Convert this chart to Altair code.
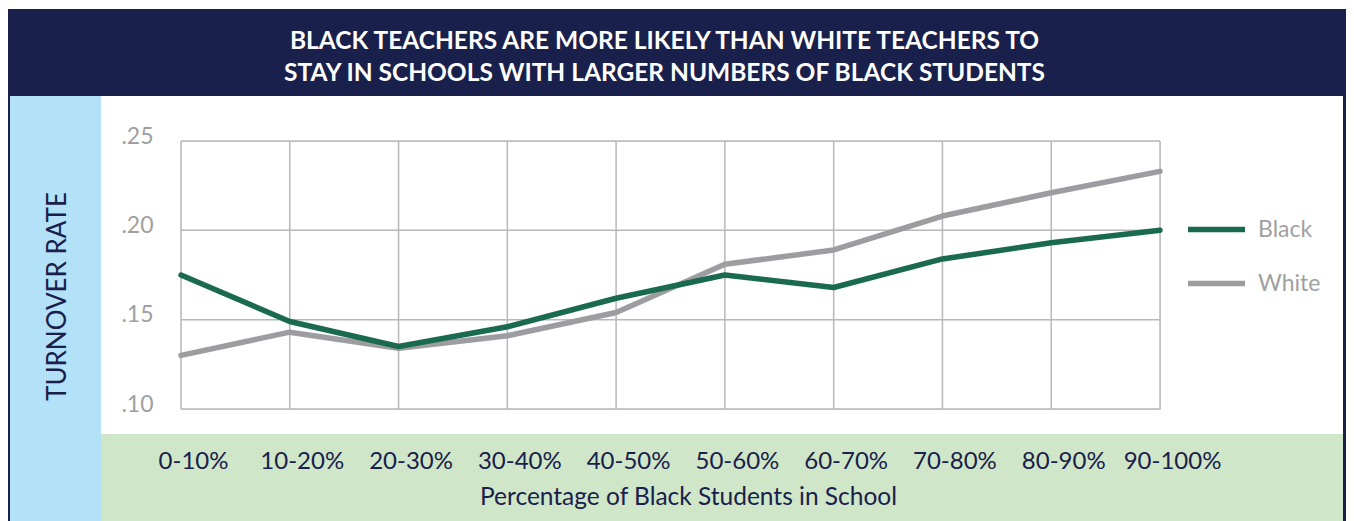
import altair as alt
import pandas as pd

categories = ["0-10%", "10-20%", "20-30%", "30-40%", "40-50%",
              "50-60%", "60-70%", "70-80%", "80-90%", "90-100%"]
black = [0.175, 0.149, 0.135, 0.146, 0.162, 0.175, 0.168, 0.184, 0.193, 0.200]
white = [0.130, 0.143, 0.134, 0.141, 0.154, 0.181, 0.189, 0.208, 0.221, 0.233]
series_names = ["Black", "White"]
y_ticks = [0.10, 0.15, 0.20, 0.25]
title_lines = ["BLACK TEACHERS ARE MORE LIKELY THAN WHITE TEACHERS TO",
               "STAY IN SCHOOLS WITH LARGER NUMBERS OF BLACK STUDENTS"]

rows = []
for s, vals in (("White", white), ("Black", black)):
    for c, v in zip(categories, vals):
        rows.append({"category": c, "series": s, "rate": v})
df = pd.DataFrame(rows)
cat_df = pd.DataFrame({"category": categories})
tick_df = pd.DataFrame({"rate": y_ticks})

W, H = 979, 268
NAVY = "#19204b"
BLUE = "#b3e1f8"
GREENBG = "#cfe6c8"
GRID = "#b8b8b8"
LABEL_GRAY = "#a0a0a0"
FONT = "Lato"

x_scale = alt.Scale(type="point", domain=categories, padding=0)
y_scale = alt.Scale(domain=[0.10, 0.25], zero=False, nice=False)

x_axis = alt.Axis(
    title="Percentage of Black Students in School",
    grid=False, ticks=False, domain=False, labelAngle=0,
    labelFont=FONT, labelFontSize=24, labelColor=NAVY,
    labelPadding=40, labelOffset=12,
    titleFont=FONT, titleFontSize=24.5, titleColor=NAVY, titleFontWeight="normal",
    titleX=507, titleY=88, titleBaseline="middle", titleAlign="center",
    zindex=1,
)
y_axis = alt.Axis(
    title="TURNOVER RATE", values=y_ticks,
    labelExpr="substring(format(datum.value, '.2f'), 1)",
    grid=False, ticks=False, domain=False,
    labelFont=FONT, labelFontSize=23, labelColor=LABEL_GRAY,
    labelPadding=28, labelOffset=-5, labelBaseline="middle",
    titleFont=FONT, titleFontSize=26, titleColor=NAVY, titleFontWeight="normal",
    titleX=-124, titleY=155, titleAngle=270, titleAlign="center",
    titleBaseline="middle", zindex=1,
)

one = pd.DataFrame({"o": [0]})


def band(color, x0, x1, y0, y1):
    return alt.Chart(one).mark_rect(color=color).encode(
        x=alt.value(x0), x2=alt.value(x1), y=alt.value(y0), y2=alt.value(y1)
    )


bands = [
    band(NAVY, -174, 1165, -132, -45),
    band(NAVY, -174, -171, -45, 380),
    band(NAVY, 1162, 1165, -45, 380),
    band(BLUE, -171, -80, -45, 380),
    band(GREENBG, -80, 1162, 293, 380),
]

vgrid = alt.Chart(cat_df).mark_rule(color=GRID, strokeWidth=1.5).encode(
    x=alt.X("category:N", scale=x_scale, axis=x_axis, sort=categories)
)
hgrid = alt.Chart(tick_df).mark_rule(color=GRID, strokeWidth=1.5).encode(
    y=alt.Y("rate:Q", scale=y_scale, axis=y_axis)
)

lines = alt.Chart(df).mark_line(strokeWidth=5.5, strokeCap="round", strokeJoin="round").encode(
    x=alt.X("category:N", scale=x_scale, axis=x_axis, sort=categories),
    y=alt.Y("rate:Q", scale=y_scale, axis=y_axis),
    color=alt.Color(
        "series:N",
        scale=alt.Scale(domain=series_names, range=["#196a4f", "#9d9ca1"]),
        legend=alt.Legend(
            title=None, orient="none", legendX=1004, legendY=57,
            direction="vertical", symbolType="stroke", symbolSize=3249,
            symbolStrokeWidth=5.5, labelFont=FONT, labelFontSize=23,
            labelColor=LABEL_GRAY, labelOffset=10, rowPadding=10, padding=0,
        ),
    ),
    detail="series:N",
)

chart = alt.layer(*bands, vgrid, hgrid, lines).properties(
    width=W, height=H,
    title=alt.TitleParams(
        text=title_lines, font=FONT, fontSize=24.5, fontWeight="bold",
        color="white", anchor="middle", frame="group", lineHeight=32,
        offset=0, dy=77, dx=-6,
    ),
    padding={"left": 173, "top": 133, "right": 186, "bottom": 112},
    autosize=alt.AutoSizeParams(type="none"),
).configure_view(stroke=None).configure(background="white")

chart.save("out.html", embed_options={"renderer": "svg", "actions": False})
